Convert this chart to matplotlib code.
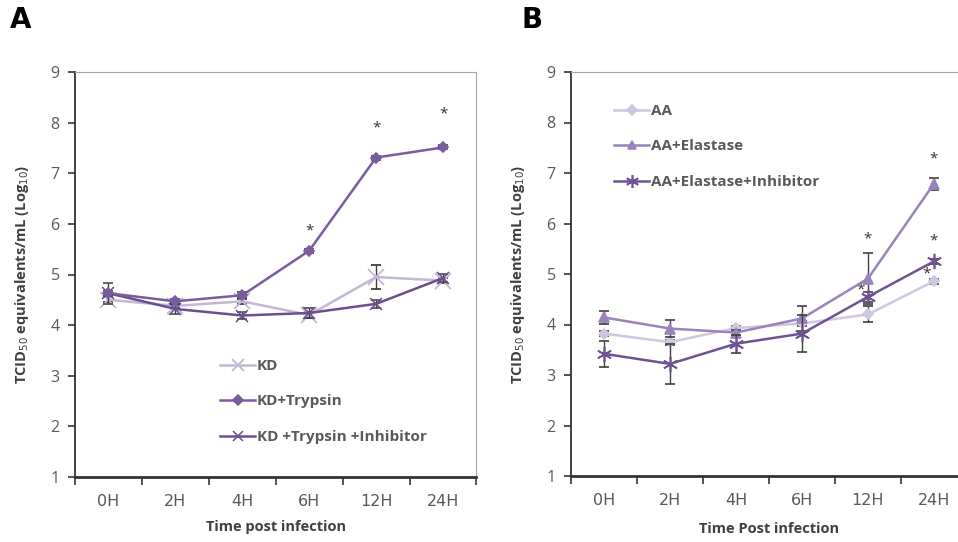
import matplotlib
matplotlib.use("Agg")
import matplotlib.pyplot as plt
from matplotlib.lines import Line2D
import numpy as np

plt.rcParams['font.family'] = ['Open Sans', 'DejaVu Sans']

timepoints = ["0H", "2H", "4H", "6H", "12H", "24H"]

# Panel A
kd = [4.50, 4.38, 4.47, 4.20, 4.95, 4.88]
kd_err = [0.05, 0.05, 0.05, 0.05, 0.24, 0.05]
kd_tryp = [4.63, 4.47, 4.59, 5.47, 7.31, 7.51]
kd_tryp_err = [0.05, 0.05, 0.06, 0.04, 0.04, 0.04]
kd_tryp_inh = [4.63, 4.32, 4.19, 4.24, 4.42, 4.93]
kd_tryp_inh_err = [0.21, 0.1, 0.06, 0.1, 0.08, 0.08]
stars_a_x = [3, 4, 5]
stars_a_y = [5.86, 7.89, 8.17]

# Panel B
aa = [3.82, 3.65, 3.93, 4.02, 4.20, 4.86]
aa_err = [0.05, 0.05, 0.05, 0.05, 0.16, 0.05]
aa_el = [4.14, 3.92, 3.84, 4.12, 4.91, 6.79]
aa_el_err = [0.13, 0.17, 0.06, 0.24, 0.51, 0.12]
aa_el_inh = [3.42, 3.22, 3.62, 3.82, 4.55, 5.25]
aa_el_inh_err = [0.26, 0.4, 0.18, 0.37, 0.1, 0.05]
stars_b_x = [4, 3.88, 5, 5, 4.88]
stars_b_y = [5.70, 4.68, 7.27, 5.65, 5.00]

x = np.arange(len(timepoints))

fig = plt.figure(figsize=(9.58, 5.42), dpi=100)
axA = fig.add_axes([75/958, 1-477/542, (476.5-75)/958, (477-72)/542])
axB = fig.add_axes([571/958, 1-476/542, 396/958, (476-72)/542])

tick_gray = '#595959'
err_col = '#3f3f3f'

def style(ax):
    ax.set_ylim(1, 9)
    ax.set_xlim(-0.5, 5.5)
    ax.set_yticks(range(1, 10))
    ax.set_xticks(np.arange(-0.5, 6.0, 1.0))
    ax.set_xticklabels([])
    ax.set_xticks(x, minor=True)
    ax.set_xticklabels(timepoints, minor=True, family=['Liberation Sans Narrow', 'DejaVu Sans'],
                       fontsize=11.5, color=tick_gray)
    ax.tick_params(axis='x', which='minor', length=0, pad=12)
    ax.tick_params(axis='x', which='major', length=6, width=1.2, color='#333333', direction='out')
    ax.tick_params(axis='y', length=5, width=1.2, color='#333333', labelsize=11.5, labelcolor=tick_gray, pad=6)
    ax.spines['left'].set_color('#333333')
    ax.spines['left'].set_linewidth(1.3)
    ax.spines['bottom'].set_color('#333333')
    ax.spines['bottom'].set_linewidth(2)
    ax.spines['top'].set_color('#a6a6a6')
    ax.spines['top'].set_linewidth(0.8)
    ax.spines['right'].set_color('#a6a6a6')
    ax.spines['right'].set_linewidth(0.8)
    ax.set_ylabel('TCID$_{50}$ equivalents/mL (Log$_{10}$)', fontsize=10.5, fontweight='bold',
                  color='#404040', labelpad=14)

def series(ax, y, e, color, marker, ms, label, mew=1.2, z=3):
    ax.errorbar(x, y, yerr=e, color=color, marker=marker, markersize=ms, markeredgewidth=mew,
                linewidth=1.8, ecolor=err_col, elinewidth=1, capsize=3.5, capthick=1, zorder=z)
    return Line2D([], [], color=color, marker=marker, markersize=ms * 0.85, markeredgewidth=mew,
                  linewidth=1.8, label=label)

# Panel A
c_kd = '#c3b6d6'
c_tryp = '#7b5ba0'
c_inh = '#6b4e8e'
hA = [series(axA, kd, kd_err, c_kd, 'x', 11, 'KD', mew=1.3, z=2),
      series(axA, kd_tryp, kd_tryp_err, c_tryp, 'D', 5.5, 'KD+Trypsin', z=4),
      series(axA, kd_tryp_inh, kd_tryp_inh_err, c_inh, 'x', 9, 'KD +Trypsin +Inhibitor', mew=1.1, z=3)]
for sx, sy in zip(stars_a_x, stars_a_y):
    axA.text(sx, sy, '*', ha='center', va='center', fontsize=11, color='#333333')
style(axA)
axA.set_xlabel('Time post infection', fontsize=10.5, fontweight='bold', color='#404040', labelpad=8)

# Panel B
c_aa = '#cfc7df'
c_el = '#9a82ba'
c_binh = '#6e5293'
hB = [series(axB, aa, aa_err, c_aa, 'D', 5.5, 'AA', z=2),
      series(axB, aa_el, aa_el_err, c_el, '^', 7, 'AA+Elastase', z=3),
      series(axB, aa_el_inh, aa_el_inh_err, c_binh, (6, 2, 0), 11, 'AA+Elastase+Inhibitor', mew=1.2, z=4)]
for sx, sy in zip(stars_b_x, stars_b_y):
    axB.text(sx, sy, '*', ha='center', va='center', fontsize=11, color='#333333')
style(axB)
axB.spines['right'].set_visible(False)
axB.set_xlabel('Time Post infection', fontsize=10.5, fontweight='bold', color='#404040', labelpad=10)

legA = axA.legend(handles=hA, loc='upper left', bbox_to_anchor=(214/958, 1-353/542), bbox_transform=fig.transFigure,
                  frameon=False, handlelength=2.3, handletextpad=0.1, labelspacing=1.4,
                  prop={'weight': 'bold', 'size': 11}, borderaxespad=0)
legB = axB.legend(handles=hB, loc='upper left', bbox_to_anchor=(608/958, 1-98/542), bbox_transform=fig.transFigure,
                  frameon=False, handlelength=2.3, handletextpad=0.1, labelspacing=1.4,
                  prop={'weight': 'bold', 'size': 11}, borderaxespad=0)
for leg in (legA, legB):
    for t in leg.get_texts():
        t.set_color('#595959')

fig.text(10/958, 1-20/542, 'A', fontsize=20, fontweight='bold', va='center', ha='left', family='DejaVu Sans')
fig.text(522/958, 1-20/542, 'B', fontsize=20, fontweight='bold', va='center', ha='left', family='DejaVu Sans')

fig.savefig('out.png', dpi=100)
